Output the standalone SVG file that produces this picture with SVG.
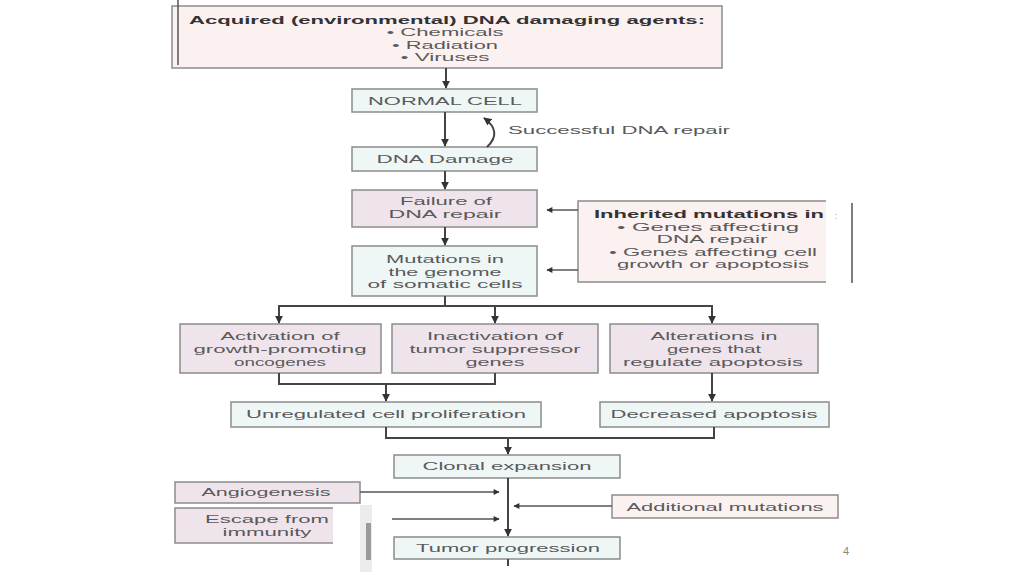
<svg xmlns="http://www.w3.org/2000/svg" width="1024" height="576" viewBox="0 0 1024 576">
<style>
text{font-family:"Liberation Sans",Arial,sans-serif;font-size:11px;fill:#5a5a5a;text-anchor:middle}
.b{font-weight:bold;fill:#333}
.pk{fill:#efe4ec;stroke:#8c8c8c;stroke-width:1.5}
.pl{fill:#fbf1f1;stroke:#8c8c8c;stroke-width:1.5}
.cy{fill:#eef7f6;stroke:#8c8c8c;stroke-width:1.5}
.ln{fill:none;stroke:#444;stroke-width:2}
.ln2{fill:none;stroke:#555;stroke-width:1.5}
</style>
<defs>
<marker id="ah" viewBox="0 0 10 10" refX="9" refY="5" markerWidth="8" markerHeight="8" orient="auto" markerUnits="userSpaceOnUse">
<path d="M0,0 L10,5 L0,10 z" fill="#333"/>
</marker>
<marker id="ah2" viewBox="0 0 10 10" refX="9" refY="5" markerWidth="10" markerHeight="6" orient="auto" markerUnits="userSpaceOnUse">
<path d="M0,0 L10,5 L0,10 z" fill="#333"/>
</marker>
</defs>
<rect width="1024" height="576" fill="#fff"/>

<g id="acquired">
<rect class="pl" x="172" y="6" width="550" height="62"/>
<line x1="178" y1="0" x2="178" y2="65" stroke="#555" stroke-width="1.5"/>
<text class="b" x="447" y="24" textLength="516" lengthAdjust="spacingAndGlyphs">Acquired (environmental) DNA damaging agents:</text>
<text x="445" y="36" textLength="117" lengthAdjust="spacingAndGlyphs">• Chemicals</text>
<text x="445" y="48.5" textLength="106" lengthAdjust="spacingAndGlyphs">• Radiation</text>
<text x="445" y="61" textLength="89" lengthAdjust="spacingAndGlyphs">• Viruses</text>
</g>

<g id="normal">
<rect class="cy" x="352" y="89" width="185" height="23"/>
<text x="445" y="105" textLength="154" lengthAdjust="spacingAndGlyphs">NORMAL CELL</text>
</g>
<g id="repairLabel">
<text x="619" y="134" textLength="222" lengthAdjust="spacingAndGlyphs">Successful DNA repair</text>
</g>
<g id="damage">
<rect class="cy" x="352" y="147" width="185" height="24"/>
<text x="445" y="163" textLength="137" lengthAdjust="spacingAndGlyphs">DNA Damage</text>
</g>
<g id="failure">
<rect class="pk" x="352" y="190" width="185" height="37"/>
<text x="446" y="205" textLength="92" lengthAdjust="spacingAndGlyphs">Failure of</text>
<text x="445" y="218" textLength="113" lengthAdjust="spacingAndGlyphs">DNA repair</text>
</g>
<g id="mutations">
<rect class="cy" x="352" y="246" width="185" height="50"/>
<text x="445" y="263" textLength="118" lengthAdjust="spacingAndGlyphs">Mutations in</text>
<text x="445" y="275.5" textLength="113" lengthAdjust="spacingAndGlyphs">the genome</text>
<text x="445" y="288" textLength="155" lengthAdjust="spacingAndGlyphs">of somatic cells</text>
</g>
<g id="inherited">
<rect x="578" y="201" width="248" height="81" fill="#fbf1f1"/>
<path d="M826,201 H578 V282 H826" fill="none" stroke="#8c8c8c" stroke-width="1.5"/>
<text class="b" x="709" y="218" textLength="230" lengthAdjust="spacingAndGlyphs">Inherited mutations in</text>
<text x="708" y="230.5" textLength="182" lengthAdjust="spacingAndGlyphs">• Genes affecting</text>
<text x="712" y="243" textLength="111" lengthAdjust="spacingAndGlyphs">DNA repair</text>
<text x="713" y="255.5" textLength="208" lengthAdjust="spacingAndGlyphs">• Genes affecting cell</text>
<text x="713" y="268" textLength="192" lengthAdjust="spacingAndGlyphs">growth or apoptosis</text>
<text x="836" y="219" style="font-size:9px;fill:#999">:</text>
<line x1="852" y1="203" x2="852" y2="283" stroke="#555" stroke-width="1.5"/>
</g>
<g id="activation">
<rect class="pk" x="180" y="324" width="201" height="49"/>
<text x="280" y="340" textLength="119" lengthAdjust="spacingAndGlyphs">Activation of</text>
<text x="280" y="353" textLength="173" lengthAdjust="spacingAndGlyphs">growth-promoting</text>
<text x="280" y="366" textLength="92" lengthAdjust="spacingAndGlyphs">oncogenes</text>
</g>
<g id="inactivation">
<rect class="pk" x="392" y="324" width="206" height="49"/>
<text x="495" y="340" textLength="136" lengthAdjust="spacingAndGlyphs">Inactivation of</text>
<text x="495" y="353" textLength="171" lengthAdjust="spacingAndGlyphs">tumor suppressor</text>
<text x="495" y="366" textLength="59" lengthAdjust="spacingAndGlyphs">genes</text>
</g>
<g id="alterations">
<rect class="pk" x="610" y="324" width="208" height="49"/>
<text x="714" y="340" textLength="127" lengthAdjust="spacingAndGlyphs">Alterations in</text>
<text x="714" y="353" textLength="94" lengthAdjust="spacingAndGlyphs">genes that</text>
<text x="713" y="366" textLength="180" lengthAdjust="spacingAndGlyphs">regulate apoptosis</text>
</g>
<g id="unregulated">
<rect class="cy" x="231" y="402" width="310" height="25"/>
<text x="386" y="418" textLength="280" lengthAdjust="spacingAndGlyphs">Unregulated cell proliferation</text>
</g>
<g id="decreased">
<rect class="cy" x="600" y="402" width="229" height="25"/>
<text x="714" y="418" textLength="207" lengthAdjust="spacingAndGlyphs">Decreased apoptosis</text>
</g>
<g id="clonal">
<rect class="cy" x="394" y="455" width="226" height="23"/>
<text x="507" y="470" textLength="169" lengthAdjust="spacingAndGlyphs">Clonal expansion</text>
</g>
<g id="angiogenesis">
<rect class="pk" x="175" y="482" width="185" height="21"/>
<text x="266" y="496" textLength="129" lengthAdjust="spacingAndGlyphs">Angiogenesis</text>
</g>
<g id="escape">
<rect class="pk" x="175" y="508" width="185" height="35"/>
<text x="267" y="523" textLength="124" lengthAdjust="spacingAndGlyphs">Escape from</text>
<text x="267" y="536" textLength="89" lengthAdjust="spacingAndGlyphs">immunity</text>
</g>
<g id="additional">
<rect class="pl" x="612" y="495" width="226" height="23"/>
<text x="725" y="511" textLength="197" lengthAdjust="spacingAndGlyphs">Additional mutations</text>
</g>
<g id="tumor">
<rect class="cy" x="394" y="537" width="226" height="22"/>
<text x="508" y="552" textLength="184" lengthAdjust="spacingAndGlyphs">Tumor progression</text>
</g>

<g id="connectors">
<line class="ln" x1="446" y1="68" x2="446" y2="88" marker-end="url(#ah)"/>
<line class="ln" x1="445" y1="112" x2="445" y2="146" marker-end="url(#ah)"/>
<path class="ln" d="M487,147 Q503,132 484,118" marker-end="url(#ah)"/>
<line class="ln" x1="445" y1="171" x2="445" y2="189" marker-end="url(#ah)"/>
<line class="ln" x1="445" y1="227" x2="445" y2="245" marker-end="url(#ah)"/>
<line class="ln2" x1="578" y1="210" x2="547" y2="210" marker-end="url(#ah2)"/>
<line class="ln2" x1="578" y1="270" x2="547" y2="270" marker-end="url(#ah2)"/>
<path class="ln" d="M445,296 V306 M279,306 H712"/>
<line class="ln" x1="279" y1="305" x2="279" y2="323" marker-end="url(#ah)"/>
<line class="ln" x1="495" y1="305" x2="495" y2="323" marker-end="url(#ah)"/>
<line class="ln" x1="712" y1="305" x2="712" y2="323" marker-end="url(#ah)"/>
<path class="ln" d="M279,373 V384 H495 V373"/>
<line class="ln" x1="386" y1="384" x2="386" y2="401" marker-end="url(#ah)"/>
<line class="ln" x1="712" y1="373" x2="712" y2="401" marker-end="url(#ah)"/>
<path class="ln" d="M386,427 V438 H714 V427"/>
<line class="ln" x1="508" y1="438" x2="508" y2="454" marker-end="url(#ah)"/>
<line class="ln" x1="508" y1="478" x2="508" y2="536" marker-end="url(#ah)"/>
<line class="ln2" x1="360" y1="492" x2="499" y2="492" marker-end="url(#ah2)"/>
<line class="ln2" x1="392" y1="519" x2="499" y2="519" marker-end="url(#ah2)"/>
<line class="ln2" x1="612" y1="506" x2="514" y2="506" marker-end="url(#ah2)"/>
<line class="ln" x1="508" y1="559" x2="508" y2="566"/>
</g>

<rect x="333" y="505" width="39" height="71" fill="#fff"/>
<rect x="360" y="505" width="12" height="67" fill="#ececec"/>
<rect x="366" y="523" width="5" height="37" fill="#9a9a9a"/>
<text x="846" y="555" style="font-size:11px;fill:#888">4</text>
</svg>
